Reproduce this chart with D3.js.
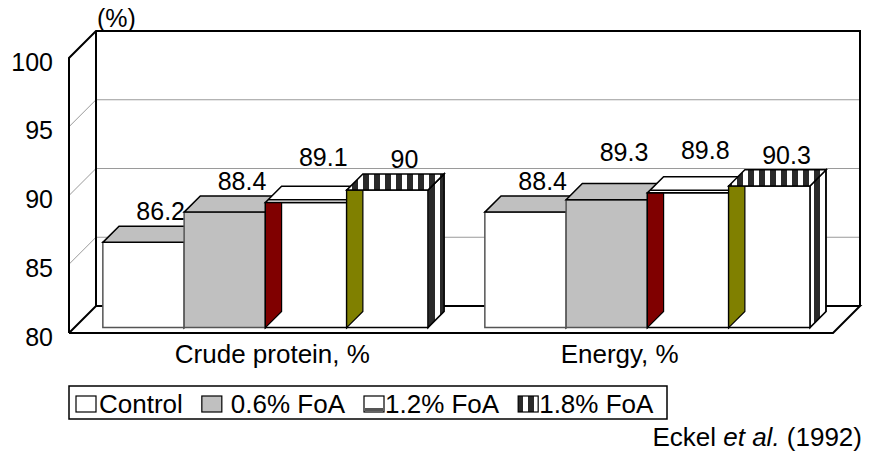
<!DOCTYPE html>
<html lang="en">
  <head>
    <meta charset="UTF-8" />
    <title>Digestibility - 3D columns</title>
    <script src="https://d3js.org/d3.v7.min.js"></script>
    <style>
      body {
        margin: 0;
        background: #fff;
      }
      svg {
        font-family: "Liberation Sans", Arial, sans-serif;
      }
      .lbl {
        font-size: 25px;
        fill: #000;
      }
      .big {
        font-size: 26px;
      }
    </style>
  </head>
  <body>
    <svg id="chart" width="873" height="454"></svg>
    <script>
      // data
      const categories = ["Crude protein, %", "Energy, %"];
      const series = ["Control", "0.6% FoA", "1.2% FoA", "1.8% FoA"];
      const crudeProtein = [86.2, 88.4, 89.1, 90];
      const energy = [88.4, 89.3, 89.8, 90.3];
      const yTicks = [80, 85, 90, 95, 100];
      const gridValues = [85, 90, 95];

      const values = [crudeProtein, energy];

      const width = 873;
      const height = 454;
      const svg = d3.select("#chart");

      // front plane of the 3d box, depth goes up-right
      const left = 69,
        right = 833,
        depth = 27;
      const y = d3.scaleLinear().domain([80, 100]).range([333, 58]);
      const xg = d3.scaleBand().domain(categories).range([left, right]);
      const xs = d3
        .scaleBand()
        .domain(series)
        .range([0, xg.bandwidth()])
        .paddingInner(0)
        .paddingOuter(0.35);

      // project a point (x, y on front plane, z = depth fraction 0..1)
      function p(x, yy, z) {
        return [x + z * depth, yy - z * depth];
      }
      function poly(pts) {
        return pts.map((d) => d.join(",")).join(" ");
      }

      // patterns
      const defs = svg.append("defs");
      const stripes = defs
        .append("pattern")
        .attr("id", "stripes")
        .attr("patternUnits", "userSpaceOnUse")
        .attr("width", 11)
        .attr("height", 11);
      stripes.append("rect").attr("width", 11).attr("height", 11).attr("fill", "#fff");
      stripes.append("rect").attr("width", 6).attr("height", 11).attr("fill", "#2a2a2a");

      // walls
      const walls = svg.append("g");
      walls
        .append("polygon")
        .attr("points", poly([p(left, y(80), 1), p(right, y(80), 1), p(right, y(100), 1), p(left, y(100), 1)]))
        .attr("fill", "#fff")
        .attr("stroke", "none");
      walls
        .append("polygon")
        .attr("points", poly([p(left, y(100), 0), p(left, y(100), 1), p(left, y(80), 1), p(left, y(80), 0)]))
        .attr("fill", "#fff")
        .attr("stroke", "none");

      // gridlines on back wall and left wall
      walls
        .selectAll(".grid")
        .data(gridValues)
        .join("polyline")
        .attr("class", "grid")
        .attr("points", (v) => poly([p(left, y(v), 0), p(left, y(v), 1), p(right, y(v), 1)]))
        .attr("fill", "none")
        .attr("stroke", "#9a9a9a")
        .attr("stroke-width", 1);

      // outlines
      const edges = [
        [p(left, y(80), 0), p(left, y(100), 0), p(left, y(100), 1), p(right, y(100), 1), p(right, y(80), 1)],
        [p(left, y(100), 1), p(left, y(80), 1)],
        [p(left, y(80), 0), p(left, y(80), 1), p(right, y(80), 1), p(right, y(80), 0), p(left, y(80), 0)],
      ];
      walls
        .selectAll(".edge")
        .data(edges)
        .join("polyline")
        .attr("class", "edge")
        .attr("points", (d) => poly(d))
        .attr("fill", "none")
        .attr("stroke", "#000")
        .attr("stroke-width", 2);

      // bars
      const z0 = 0.2,
        z1 = 0.8;
      const front = ["#fff", "#c0c0c0", "#fff", "#fff"];
      const topFill = ["#c0c0c0", "#c0c0c0", "#fff", "url(#stripes)"];
      const sideFill = ["#c0c0c0", "#c0c0c0", "#fff", "url(#stripes)"];
      const leftFace = [null, null, "#800000", "#808000"];
      const frontStroke = ["#555", "#555", "#000", "#000"];
      // excel nudged some value labels upward
      const labelLift = [
        [0, 0, 14, 0],
        [0, 17, 12, 0],
      ];

      const bars = svg.append("g");
      categories.forEach((cat, ci) => {
        series.forEach((s, si) => {
          const v = values[ci][si];
          const xl = xg(cat) + xs(s);
          const w = xs.bandwidth();
          const g = bars.append("g");
          // right side
          g.append("polygon")
            .attr("points", poly([p(xl + w, y(80), z0), p(xl + w, y(80), z1), p(xl + w, y(v), z1), p(xl + w, y(v), z0)]))
            .attr("fill", sideFill[si])
            .attr("stroke", "#000")
            .attr("stroke-width", 1.5);
          // front
          g.append("polygon")
            .attr("points", poly([p(xl, y(80), z0), p(xl + w, y(80), z0), p(xl + w, y(v), z0), p(xl, y(v), z0)]))
            .attr("fill", front[si])
            .attr("stroke", frontStroke[si])
            .attr("stroke-width", 1.5);
          // coloured inner face on the left
          if (leftFace[si]) {
            const ft = p(xl, y(v), z0);
            g.append("polygon")
              .attr("points", poly([p(xl, y(80), z0), p(xl, y(80), z1), [ft[0] + (z1 - z0) * depth, ft[1]], ft]))
              .attr("fill", leftFace[si])
              .attr("stroke", "#000")
              .attr("stroke-width", 1.2);
          }
          // top
          g.append("polygon")
            .attr("points", poly([p(xl, y(v), z0), p(xl + w, y(v), z0), p(xl + w, y(v), z1), p(xl, y(v), z1)]))
            .attr("fill", topFill[si])
            .attr("stroke", "#000")
            .attr("stroke-width", 1.5);
          if (si === 2) {
            g.append("polyline")
              .attr("points", poly([p(xl, y(v), z0 + 0.1), p(xl + w, y(v), z0 + 0.1)]))
              .attr("stroke", "#000")
              .attr("stroke-width", 1.5);
          }
          // value label
          const c = p(xl + w / 2, y(v), z1);
          g.append("text")
            .attr("class", "lbl")
            .attr("x", c[0] + 1)
            .attr("y", c[1] - 6 - labelLift[ci][si])
            .attr("text-anchor", "middle")
            .text(v);
        });
      });

      // y axis labels
      const yAxis = svg
        .append("g")
        .attr("transform", "translate(53,4)")
        .call(d3.axisLeft(y).tickValues(yTicks).tickSize(0).tickPadding(0));
      yAxis.select(".domain").remove();
      yAxis.selectAll("text").attr("class", "lbl").attr("font-size", null).attr("font-family", null);

      svg.append("text").attr("class", "lbl").attr("x", 97).attr("y", 27).text("(%)");

      // category labels
      const xc = d3.scalePoint().domain(categories).range([left, right]).padding(0.6);
      svg
        .selectAll(".cat")
        .data(categories)
        .join("text")
        .attr("class", "lbl big cat")
        .attr("x", (d) => xc(d) - 5)
        .attr("y", 363)
        .attr("text-anchor", "middle")
        .text((d) => d);

      // legend
      const lg = svg.append("g");
      lg.append("rect")
        .attr("x", 69)
        .attr("y", 386)
        .attr("width", 598)
        .attr("height", 33)
        .attr("fill", "#fff")
        .attr("stroke", "#000")
        .attr("stroke-width", 1.5);
      const textGap = [2, 8, 0, 0];
      let lx = 76;
      series.forEach((s, si) => {
        const ig = lg.append("g");
        ig.append("rect")
          .attr("x", lx)
          .attr("y", 396)
          .attr("width", 20)
          .attr("height", 16)
          .attr("fill", si === 3 ? "url(#stripes)" : front[si])
          .attr("stroke", "#000")
          .attr("stroke-width", 1.2);
        if (si === 2) {
          ig.append("rect")
            .attr("x", lx + 1)
            .attr("y", 408)
            .attr("width", 18)
            .attr("height", 3)
            .attr("fill", "#555");
        }
        const t = ig
          .append("text")
          .attr("class", "lbl big")
          .attr("x", lx + 21 + textGap[si])
          .attr("y", 413)
          .text(s);
        lx = lx + 21 + textGap[si] + t.node().getComputedTextLength() + 19;
      });

      // source
      const src = svg
        .append("text")
        .attr("class", "lbl big")
        .attr("x", 862)
        .attr("y", 446)
        .attr("text-anchor", "end");
      src.append("tspan").text("Eckel ");
      src.append("tspan").attr("font-style", "italic").text("et al.");
      src.append("tspan").text(" (1992)");
    </script>
  </body>
</html>
